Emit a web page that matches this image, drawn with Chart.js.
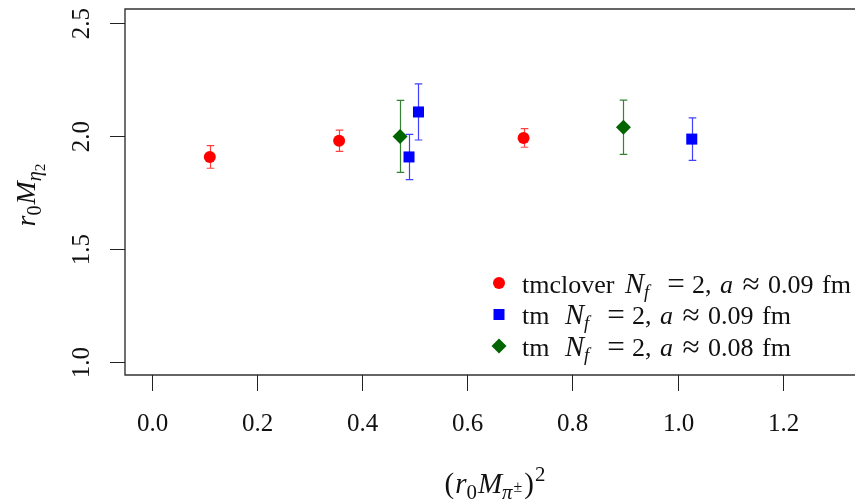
<!DOCTYPE html>
<html>
<head>
<meta charset="utf-8">
<script src="https://cdn.jsdelivr.net/npm/chart.js@4.4.1/dist/chart.umd.min.js"></script>
<style>
  html, body { margin: 0; padding: 0; background: #fff; }
  #wrap { position: relative; width: 855px; height: 501px; }
</style>
</head>
<body>
<div id="wrap"><canvas id="chart" width="855" height="501"></canvas></div>
<script>
// values
const tmcloverX = [0.110, 0.356, 0.707];
const tmcloverY = [1.906, 1.978, 1.990];
const tmcloverErr = [0.050, 0.047, 0.041];

const tm09X = [0.489, 0.507, 1.027];
const tm09Y = [1.906, 2.105, 1.985];
const tm09Err = [0.100, 0.124, 0.094];

const tm08X = [0.472, 0.897];
const tm08Y = [1.997, 2.037];
const tm08Err = [0.159, 0.120];

const xTicks = [0.0, 0.2, 0.4, 0.6, 0.8, 1.0, 1.2];
const yTicks = [1.0, 1.5, 2.0, 2.5];

const FONT = '"Liberation Serif", "DejaVu Serif", serif';

function points(xs, ys, errs) {
    var out = [];
    for (var i = 0; i < xs.length; i++) out.push({ x: xs[i], y: ys[i], err: errs[i] });
    return out;
}

// draws a run of text pieces (italic / sub / sup), a very small math renderer.
// a piece with "at" is placed at that offset from x (TeX-like spacing),
// with "mid" it is centred on that offset instead
function drawMath(ctx, segs, x, y, size, align) {
    var pieces = segs.map(function(s) {
        var fs = size * (s.scale || 1);
        var dy = s.dy || 0;
        if (s.sub) { fs = size * 0.72; dy = size * 0.2; }
        if (s.sup) { fs = size * 0.72; dy = -size * 0.4; }
        if (s.subsub) { fs = size * 0.55; dy = size * 0.36; }
        if (s.subsup) { fs = size * 0.55; dy = -size * 0.02; }
        var font = (s.it ? 'italic ' : '') + fs + 'px ' + FONT;
        ctx.font = font;
        return { t: s.t, font: font, w: ctx.measureText(s.t).width, dy: dy, gap: s.gap || 0, at: s.at, mid: s.mid };
    });
    var total = pieces.reduce(function(a, p) { return a + p.w + p.gap; }, 0);
    var cx = align === 'center' ? x - total / 2 : x;
    ctx.textAlign = 'left';
    ctx.textBaseline = 'alphabetic';
    pieces.forEach(function(p) {
        if (p.at !== undefined) cx = x + p.at;
        if (p.mid !== undefined) cx = x + p.mid - p.w / 2;
        cx += p.gap;
        ctx.font = p.font;
        ctx.fillText(p.t, cx, y + p.dy);
        cx += p.w;
    });
}

function drawSymbol(ctx, kind, x, y, color) {
    ctx.save();
    ctx.fillStyle = color;
    ctx.beginPath();
    if (kind === 'circle') {
        ctx.arc(x, y, 6, 0, Math.PI * 2);
    } else if (kind === 'rect') {
        ctx.rect(x - 5.5, y - 5.5, 11, 11);
    } else {
        ctx.moveTo(x, y - 7.5); ctx.lineTo(x + 7.5, y); ctx.lineTo(x, y + 7.5); ctx.lineTo(x - 7.5, y);
        ctx.closePath();
    }
    ctx.fill();
    ctx.restore();
}

const errorBars = {
    id: 'errorBars',
    beforeDatasetsDraw(chart) {
        const ctx = chart.ctx, xs = chart.scales.x, ys = chart.scales.y;
        chart.data.datasets.forEach(function(ds) {
            ctx.save();
            ctx.strokeStyle = ds.errColor;
            ctx.lineWidth = 1.2;
            ds.data.forEach(function(p) {
                var px = Math.round(xs.getPixelForValue(p.x)) + 0.5;
                var top = ys.getPixelForValue(p.y + p.err);
                var bot = ys.getPixelForValue(p.y - p.err);
                ctx.beginPath();
                ctx.moveTo(px, top); ctx.lineTo(px, bot);
                ctx.moveTo(px - 3.8, top); ctx.lineTo(px + 3.8, top);
                ctx.moveTo(px - 3.8, bot); ctx.lineTo(px + 3.8, bot);
                ctx.stroke();
            });
            ctx.restore();
        });
    }
};

const frame = {
    id: 'frame',
    afterDraw(chart) {
        const ctx = chart.ctx, a = chart.chartArea, xs = chart.scales.x, ys = chart.scales.y;
        ctx.save();
        ctx.strokeStyle = '#333';
        ctx.lineWidth = 1.4;
        // box (right side is cut off in the reference)
        ctx.beginPath();
        ctx.moveTo(chart.width, a.top); ctx.lineTo(a.left, a.top);
        ctx.lineTo(a.left, a.bottom); ctx.lineTo(chart.width, a.bottom);
        ctx.stroke();

        ctx.fillStyle = '#111';
        ctx.strokeStyle = '#222';
        ctx.lineWidth = 1;
        // x axis ticks + labels
        xTicks.forEach(function(v) {
            var px = Math.round(xs.getPixelForValue(v)) + 0.5;
            ctx.beginPath(); ctx.moveTo(px, a.bottom); ctx.lineTo(px, a.bottom + 16); ctx.stroke();
            ctx.font = '25px ' + FONT;
            ctx.textAlign = 'center'; ctx.textBaseline = 'middle';
            ctx.fillText(v.toFixed(1), px, a.bottom + 49);
        });
        // y axis ticks + rotated labels
        yTicks.forEach(function(v) {
            var py = Math.round(ys.getPixelForValue(v)) + 0.5;
            ctx.beginPath(); ctx.moveTo(a.left, py); ctx.lineTo(a.left - 15, py); ctx.stroke();
            ctx.save();
            ctx.translate(a.left - 43, py);
            ctx.rotate(-Math.PI / 2);
            ctx.font = '25px ' + FONT;
            ctx.textAlign = 'center'; ctx.textBaseline = 'middle';
            ctx.fillText(v.toFixed(1), 0, 0);
            ctx.restore();
        });

        // axis titles
        drawMath(ctx, [
            { t: '(' }, { t: 'r', it: true, gap: 1 }, { t: '0', sub: true }, { t: 'M', it: true, gap: 1 },
            { t: 'π', it: true, sub: true }, { t: '±', subsup: true, gap: 1 }, { t: ')', gap: 2 }, { t: '2', sup: true, gap: 1 }
        ], 495, 493, 29, 'center');

        ctx.save();
        ctx.translate(35, 195);
        ctx.rotate(-Math.PI / 2);
        drawMath(ctx, [
            { t: 'r', it: true }, { t: '0', sub: true }, { t: 'M', it: true, gap: 1 },
            { t: 'η', it: true, sub: true }, { t: '2', subsub: true }
        ], 0, 0, 28, 'center');
        ctx.restore();

        // legend
        var rows = [
            { kind: 'circle', color: '#ff0000', pre: 'tmclover', n: 103, a: '0.09' },
            { kind: 'rect', color: '#0000ff', pre: 'tm', n: 43, a: '0.09' },
            { kind: 'diamond', color: '#006400', pre: 'tm', n: 43, a: '0.08' }
        ];
        rows.forEach(function(r, i) {
            var y = 283 + i * 31.5;
            drawSymbol(ctx, r.kind, 499, y, r.color);
            ctx.fillStyle = '#111';
            drawMath(ctx, [
                { t: r.pre }, { t: 'N', it: true, at: r.n, scale: 1.1 }, { t: 'f', it: true, sub: true },
                { t: '=', mid: r.n + 51, scale: 1.2, dy: 1 }, { t: '2,', at: r.n + 67 }, { t: 'a', it: true, at: r.n + 95 },
                { t: '≈', mid: r.n + 126, scale: 1.2, dy: 1 }, { t: r.a, at: r.n + 143 }, { t: 'fm', at: r.n + 197 }
            ], 522, y + 9.5, 26, 'left');
        });
        ctx.restore();
    }
};

new Chart(document.getElementById('chart'), {
    type: 'scatter',
    data: {
        datasets: [
            { label: 'tmclover', data: points(tmcloverX, tmcloverY, tmcloverErr), pointStyle: 'circle', pointRadius: 6,
              backgroundColor: '#ff0000', borderColor: '#ff0000', borderWidth: 0, errColor: 'rgba(255,0,0,0.75)' },
            { label: 'tm 0.09', data: points(tm09X, tm09Y, tm09Err), pointStyle: 'rect', pointRadius: 7.8,
              backgroundColor: '#0000ff', borderColor: '#0000ff', borderWidth: 0, errColor: 'rgba(0,0,255,0.75)' },
            { label: 'tm 0.08', data: points(tm08X, tm08Y, tm08Err), pointStyle: 'rectRot', pointRadius: 7.5,
              backgroundColor: '#006400', borderColor: '#006400', borderWidth: 0, errColor: 'rgba(0,100,0,0.8)' }
        ]
    },
    options: {
        responsive: false,
        animation: false,
        events: [],
        layout: { autoPadding: false, padding: { left: 125, top: 9, right: 0, bottom: 126 } },
        plugins: { legend: { display: false }, tooltip: { enabled: false } },
        scales: {
            x: { type: 'linear', display: false, min: -0.0514, max: 1.3376 },
            y: { type: 'linear', display: false, min: 0.9412, max: 2.5606 }
        }
    },
    plugins: [errorBars, frame]
});
</script>
</body>
</html>
